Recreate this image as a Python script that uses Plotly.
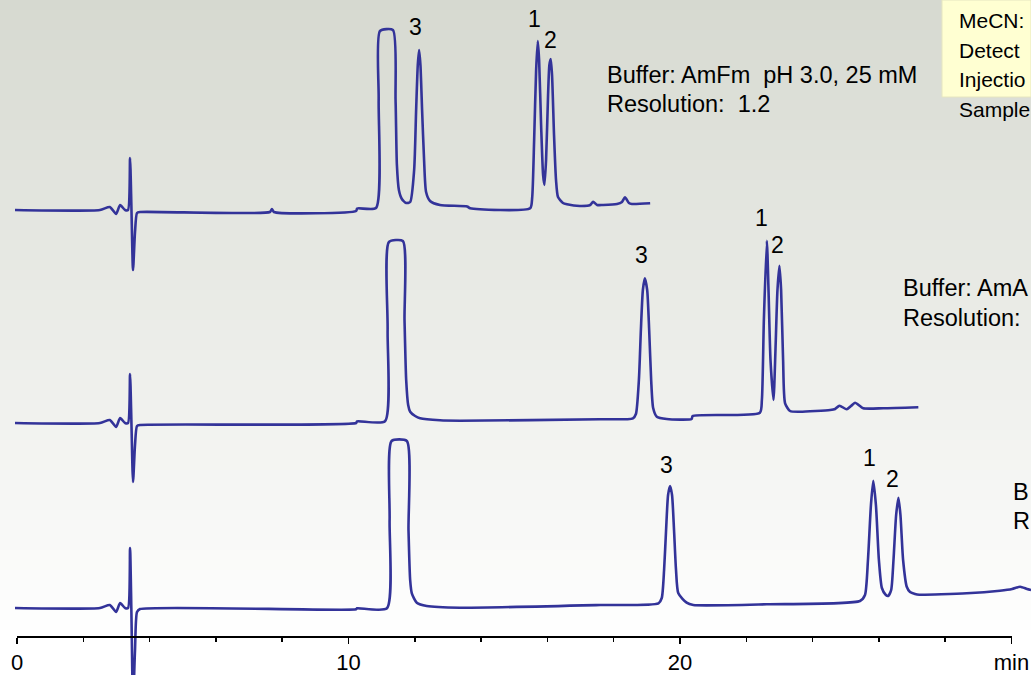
import plotly.graph_objects as go

# ---------------- data (time in min, detector signal in arbitrary units) ----------------
top_t = [-0.06, 2.50, 2.80, 2.99, 3.11, 3.26, 3.35, 3.41, 3.45, 3.50, 3.56, 3.62, 3.71, 7.63, 7.69, 7.75,
         10.23, 10.26, 10.83, 10.91, 10.95, 11.34, 11.42, 11.46, 11.52, 11.61, 11.74, 11.86, 11.98, 12.04,
         12.09, 12.13, 12.17, 12.22, 12.28, 12.34, 12.46, 12.76, 13.58, 13.67, 15.48, 15.54, 15.60, 15.66,
         15.71, 15.75, 15.81, 15.87, 15.91, 15.96, 16.02, 16.06, 16.10, 16.14, 16.20, 16.26, 16.32, 16.47,
         16.59, 16.98, 17.29, 17.38, 17.50, 17.68, 18.10, 18.25, 18.34, 18.46, 18.55, 19.10]
top_s = [0, 0, 3, -4, 5, 0, 0, 52, 5, -60, -22, -3, -2, -2, 1, -2,
         -1, 1.5, 2, 110, 179, 180, 110, 45, 20, 11, 7, 8, 40, 100,
         145, 160, 145, 100, 50, 18, 9, 5, 3.5, 1.7, 1.7, 12, 70, 140,
         169, 150, 85, 35, 25, 50, 115, 145, 151, 135, 75, 30, 13, 7,
         5.7, 4, 5, 8.3, 5, 5, 6, 8, 12.7, 7, 6, 6.7]

mid_t = [-0.06, 2.50, 2.80, 2.99, 3.11, 3.26, 3.35, 3.41, 3.45, 3.50, 3.56, 3.62, 3.71, 10.23, 10.26,
         11.10, 11.18, 11.22, 11.64, 11.69, 11.74, 11.80, 11.86, 12.01, 12.16, 12.76, 13.36, 17.59, 18.58,
         18.67, 18.76, 18.82, 18.88, 18.94, 19.01, 19.07, 19.13, 19.19, 19.30, 19.60, 20.35, 20.38, 22.41,
         22.47, 22.53, 22.62, 22.67, 22.73, 22.82, 22.88, 22.94, 23.00, 23.05, 23.11, 23.17, 23.32, 23.62,
         24.53, 24.68, 24.81, 25.03, 25.16, 25.28, 25.43, 25.53, 26.13, 27.19]
mid_s = [0, 0, 3, -4, 5, 0, 0, 49, 3, -59, -22, -3, -2, 0, 1.7,
         1.7, 93, 181, 182, 103, 43, 18, 11.3, 7, 4.7, 2.7, 2.3, 3.7, 4.7,
         9, 43, 93, 133, 144.7, 133, 93, 43, 15, 6.3, 4, 4, 7, 10.3,
         23, 103, 182.3, 133, 63, 23, 73, 133, 157.3, 133, 63, 19.7, 12, 11.3,
         13, 14, 17.3, 13.7, 17, 20.3, 17, 14.7, 14.7, 15.7]

bot_t = [-0.06, 2.50, 2.80, 2.99, 3.11, 3.26, 3.35, 3.41, 3.45, 3.50, 3.56, 3.62, 3.71, 10.23, 10.26,
         11.16, 11.24, 11.30, 11.76, 11.81, 11.86, 11.91, 12.06, 12.36, 13.36, 17.59, 19.35, 19.45, 19.52,
         19.58, 19.64, 19.70, 19.76, 19.82, 19.88, 19.95, 20.20, 20.40, 22.62, 25.43, 25.58, 25.67, 25.76,
         25.83, 25.91, 26.00, 26.09, 26.21, 26.28, 26.37, 26.44, 26.52, 26.59, 26.65, 26.73, 26.84, 26.94,
         27.09, 27.22, 28.65, 29.65, 30.02, 30.26, 30.47, 30.59]
bot_s = [0, 0, 3, -4, 5, 0, 0, 60, -2, -95, -42, -4, -1, -1.3, -0.3,
         -0.3, 88, 167, 167, 78, 28, 14.7, 5.3, 2, 0.3, 3, 4.7, 10, 38,
         78, 113, 122, 113, 78, 38, 14.7, 5.3, 3, 3.7, 7, 13, 48, 103,
         127.3, 103, 48, 20, 13, 12, 18, 48, 93, 110.3, 93, 48, 21.3, 16,
         14, 13.3, 14.7, 17.3, 19, 21.3, 19, 18]

# peak labels: text, time, signal (relative to the trace baseline)
peak_text = ["3", "1", "2"]
top_lab_t = [12.01, 15.61, 16.10]
top_lab_s = [183, 190.7, 170]
mid_lab_t = [18.84, 22.47, 22.95]
mid_lab_s = [168, 205, 178]
bot_lab_t = [19.60, 25.73, 26.42]
bot_lab_s = [143, 149.7, 128.7]

top_info = ["Buffer: AmFm  pH 3.0, 25 mM", "Resolution:  1.2"]
mid_info = ["Buffer: AmA", "Resolution:"]
bot_info = ["B", "R"]
box_info = ["MeCN:", "Detect", "Injectio", "Sample"]

tick_vals = [0, 10, 20, 30]
tick_text = ["0", "10", "20", "min"]

# ---------------- layout constants ----------------
W, H = 1031, 675
PX_PER_MIN = 33.15
X0_PX = 17
offsets = {"top": 465, "mid": 252, "bot": 67}
LINE = "#333399"
FONT = "Liberation Sans, Arial, sans-serif"

fig = go.Figure()
for key, tt, ss in (("top", top_t, top_s), ("mid", mid_t, mid_s), ("bot", bot_t, bot_s)):
    fig.add_trace(go.Scatter(x=tt, y=[s + offsets[key] for s in ss], mode="lines",
                             line=dict(color=LINE, width=2.6, shape="spline", smoothing=0.6),
                             showlegend=False, hoverinfo="skip"))
# carrier for the visible time axis
fig.add_trace(go.Scatter(x=[0, 30], y=[None, None], xaxis="x2", yaxis="y",
                         mode="lines", showlegend=False, hoverinfo="skip"))

annotations = []
for key, lt, ls in (("top", top_lab_t, top_lab_s), ("mid", mid_lab_t, mid_lab_s), ("bot", bot_lab_t, bot_lab_s)):
    for txt, t, s in zip(peak_text, lt, ls):
        annotations.append(dict(x=t, y=s + offsets[key], xref="x", yref="y", text=txt,
                                showarrow=False, xanchor="center", yanchor="middle",
                                font=dict(family=FONT, size=23, color="black")))

def px_note(text, xpx, ypx, size=23.5):
    return dict(x=xpx / W, y=(H - ypx) / H, xref="paper", yref="paper", text=text,
                showarrow=False, xanchor="left", yanchor="middle",
                font=dict(family=FONT, size=size, color="black"))

for i, line in enumerate(top_info):
    annotations.append(px_note(line, 605, 75 + 29 * i))
for i, line in enumerate(mid_info):
    annotations.append(px_note(line, 901, 288 + 30 * i))
for i, line in enumerate(bot_info):
    annotations.append(px_note(line, 1011, 492 + 29 * i))
for i, line in enumerate(box_info):
    annotations.append(px_note(line, 957, 21 + 29.5 * i, size=21))

# background gradient (grey-green at top fading to white)
shapes = []
top_rgb = (214, 217, 208)
for i in range(64):
    y_top = i * 10
    f = min(1.0, (y_top + 5) / 640)
    c = tuple(round(a + (255 - a) * f) for a in top_rgb)
    shapes.append(dict(type="rect", xref="paper", yref="paper", layer="below",
                       x0=0, x1=1, y0=(H - y_top - 11) / H, y1=(H - y_top) / H,
                       fillcolor="rgb(%d,%d,%d)" % c, line=dict(width=0)))
shapes.append(dict(type="rect", xref="paper", yref="paper", layer="below",
                   x0=0, x1=1, y0=0, y1=(H - 640) / H, fillcolor="white", line=dict(width=0)))
# info box
shapes.append(dict(type="rect", xref="paper", yref="paper", layer="below",
                   x0=942 / W, x1=1.0, y0=(H - 97) / H, y1=1.0,
                   fillcolor="#ffffd2", line=dict(color="#e6e6c0", width=1)))

axis_y = (H - 637) / H
fig.update_layout(
    width=W, height=H,
    margin=dict(l=0, r=0, t=0, b=0, pad=0, autoexpand=False),
    paper_bgcolor="rgba(0,0,0,0)", plot_bgcolor="rgba(0,0,0,0)",
    xaxis=dict(range=[-X0_PX / PX_PER_MIN, (W - X0_PX) / PX_PER_MIN], domain=[0, 1],
               visible=False, fixedrange=True, automargin=False),
    xaxis2=dict(range=[0, 30], domain=[X0_PX / W, (X0_PX + 30 * PX_PER_MIN) / W],
                anchor="free", position=axis_y, showgrid=False, zeroline=False,
                automargin=False,
                showline=True, linecolor="black", linewidth=2,
                ticks="outside", ticklen=6, tickwidth=1.5, tickcolor="black",
                tickvals=tick_vals, ticktext=tick_text,
                tickfont=dict(family=FONT, size=22, color="black"),
                minor=dict(dtick=2, tick0=0, ticks="outside", ticklen=4, tickwidth=1.5,
                           tickcolor="black", showgrid=False)),
    yaxis=dict(range=[0, H], domain=[0, 1], visible=False, fixedrange=True, automargin=False),
    shapes=shapes,
    annotations=annotations,
    showlegend=False,
)

fig.write_html("out.html", config={"displayModeBar": False, "staticPlot": True},
               post_script="document.body.style.margin='0';document.body.style.overflow='hidden';")
